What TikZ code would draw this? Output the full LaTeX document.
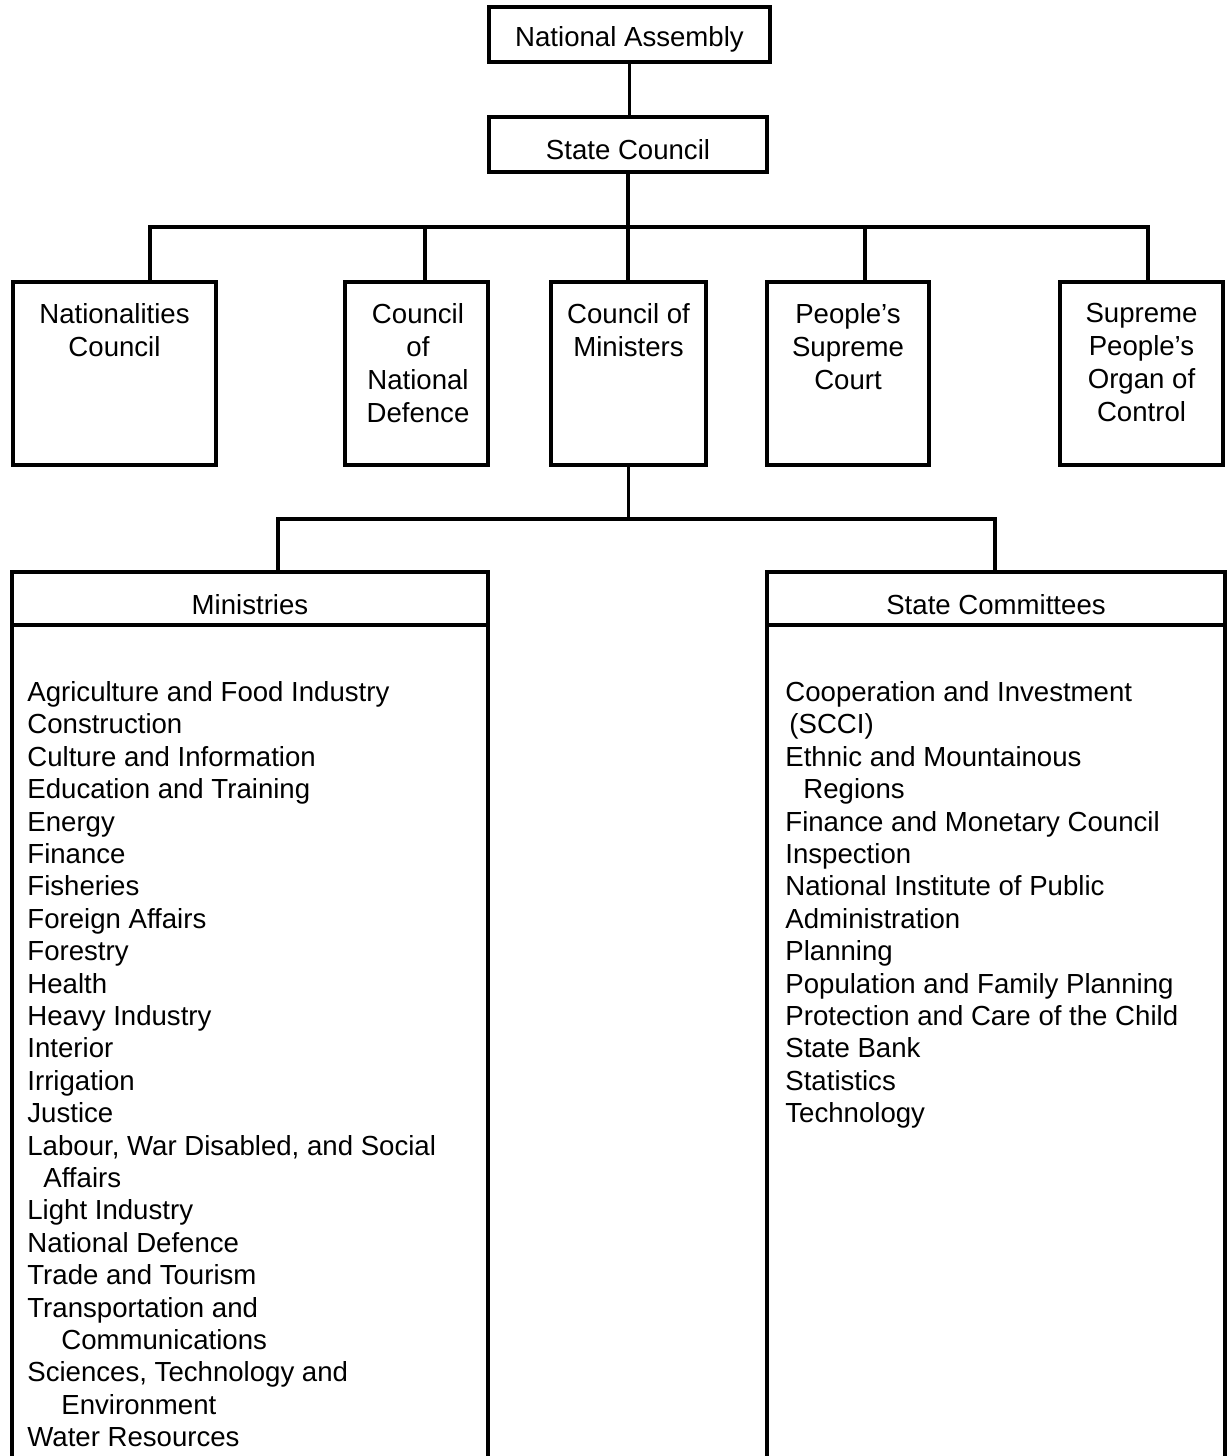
\documentclass[tikz,border=0pt]{standalone}
\usepackage{fontspec}
\setmainfont{Liberation Sans}
\tikzset{
  orgbox/.style={draw, line width=1.6pt, rectangle, inner sep=0pt, outer sep=0pt},
  txt/.style={font=\fontsize{13.8}{16.5}\selectfont, inner sep=0pt, align=center},
  lst/.style={font=\fontsize{13.8}{16.2}\selectfont, inner sep=0pt, align=left, anchor=north west},
  conn/.style={line width=1.6pt},
}
\begin{document}
\begin{tikzpicture}[x=0.5pt,y=-0.5pt]
\useasboundingbox (0,0) rectangle (1229,1456);
\clip (0,0) rectangle (1229,1456);
% top
\node[orgbox, minimum width=140.5pt, minimum height=27.5pt] (na) at (629.5,34.5) {};
\node[txt] (nat) at ([yshift=-2.5pt]na.center) {National Assembly};
\node[orgbox, minimum width=139pt, minimum height=27.5pt] (sc) at (628,144.5) {};
\node[txt] (sct) at ([yshift=-2.5pt]sc.center) {State Council};
% second row boxes
\node[orgbox, minimum width=101.5pt, minimum height=91.5pt] (nc) at (114.5,373.5) {};
\node[orgbox, minimum width=71.5pt, minimum height=91.5pt] (cnd) at (416.5,373.5) {};
\node[orgbox, minimum width=77.5pt, minimum height=91.5pt] (cm) at (628.5,373.5) {};
\node[orgbox, minimum width=81pt, minimum height=91.5pt] (psc) at (848,373.5) {};
\node[orgbox, minimum width=81.5pt, minimum height=91.5pt] (spoc) at (1141.5,373.5) {};
\node[txt, anchor=north] (nct) at (114.5,303) {Nationalities\\Council};
\node[txt, anchor=north] (cndt) at (418,303) {Council\\of\\National\\Defence};
\node[txt, anchor=north] (cmt) at (628.5,303) {Council of\\Ministers};
\node[txt, anchor=north] (psct) at (848,303) {People's\\Supreme\\Court};
\node[txt, anchor=north] (spoct) at (1141.5,303) {Supreme\\People's\\Organ of\\Control};
% bottom boxes
\node[orgbox, minimum width=238pt, minimum height=26.5pt] (minh) at (250,598.5) {};
\node[txt] (minht) at ([yshift=-3pt]minh.center) {Ministries};
\node[orgbox, minimum width=238pt, minimum height=420pt, anchor=north] (minb) at (minh.south) {};
\node[orgbox, minimum width=229pt, minimum height=26.5pt] (sch) at (996,598.5) {};
\node[txt] (scht) at ([yshift=-3pt]sch.center) {State Committees};
\node[orgbox, minimum width=229pt, minimum height=420pt, anchor=north] (scb) at (sch.south) {};
% connectors
\coordinate (b1) at (150,227);
\coordinate (b2) at (425,227);
\coordinate (b3) at (628,227);
\coordinate (b4) at (865,227);
\coordinate (b5) at (1148,227);
\draw[conn] (na.south) -- (na.south |- sc.north);
\draw[conn] (sc.south) -- (sc.south |- b3);
\draw[conn] (b1 |- nc.north) -- (b1) -- (b5) -- (b5 |- spoc.north);
\draw[conn] (b2) -- (b2 |- cnd.north);
\draw[conn] (b3) -- (b3 |- cm.north);
\draw[conn] (b4) -- (b4 |- psc.north);
\coordinate (c1) at (278,519);
\coordinate (c2) at (995,519);
\draw[conn] (cm.south) -- (cm.south |- c1);
\draw[conn] (c1 |- minh.north) -- (c1) -- (c2) -- (c2 |- sch.north);
% lists
\node[lst] (minl) at (27,681) {Agriculture and Food Industry\\
Construction\\
Culture and Information\\
Education and Training\\
Energy\\
Finance\\
Fisheries\\
Foreign Affairs\\
Forestry\\
Health\\
Heavy Industry\\
Interior\\
Irrigation\\
Justice\\
Labour, War Disabled, and Social\\
\hspace*{8pt}Affairs\\
Light Industry\\
National Defence\\
Trade and Tourism\\
Transportation and\\
\hspace*{17pt}Communications\\
Sciences, Technology and\\
\hspace*{17pt}Environment\\
Water Resources};
\node[lst] (scl) at (785,681) {Cooperation and Investment\\
\hspace*{2pt}(SCCI)\\
Ethnic and Mountainous\\
\hspace*{9pt}Regions\\
Finance and Monetary Council\\
Inspection\\
National Institute of Public\\
Administration\\
Planning\\
Population and Family Planning\\
Protection and Care of the Child\\
State Bank\\
Statistics\\
Technology};
\end{tikzpicture}
\end{document}
